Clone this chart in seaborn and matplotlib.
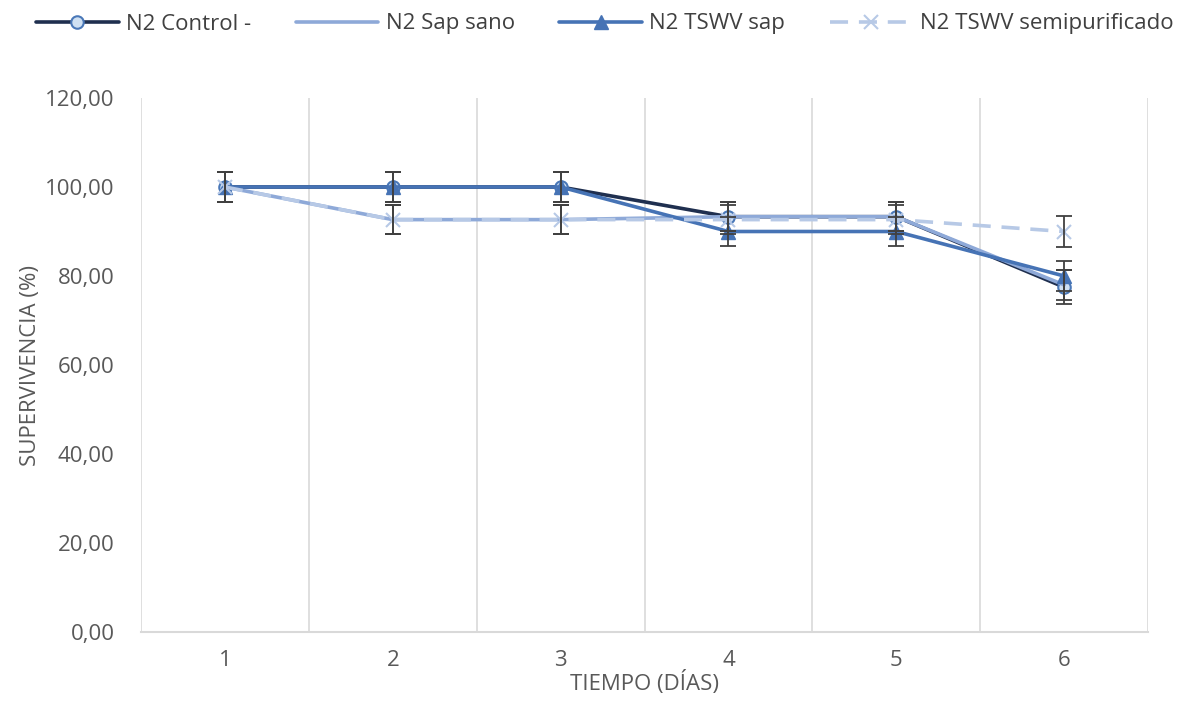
import numpy as np
import pandas as pd
import matplotlib
matplotlib.use("Agg")
import matplotlib.pyplot as plt
import seaborn as sns
from matplotlib.ticker import FuncFormatter, FixedLocator

# --- data ---
dias = [1, 2, 3, 4, 5, 6]
control = [100.0, 100.0, 100.0, 93.33, 93.33, 77.5]
sap_sano = [100.0, 92.67, 92.67, 93.33, 93.33, 78.0]
tswv_sap = [100.0, 100.0, 100.0, 90.0, 90.0, 80.0]
semipurificado = [100.0, 92.67, 92.67, 92.67, 92.67, 90.0]
err_control = [3.3, 3.3, 3.3, 3.3, 3.3, 3.8]
err_sap_sano = [3.3, 3.3, 3.3, 3.3, 3.3, 3.3]
err_tswv_sap = [3.3, 3.3, 3.3, 3.3, 3.3, 3.4]
err_semi = [3.3, 3.3, 3.3, 3.3, 3.3, 3.4]

series_names = ["N2 Control -", "N2 Sap sano", "N2 TSWV sap", "N2 TSWV semipurificado"]
series_vals = [control, sap_sano, tswv_sap, semipurificado]
series_err = [err_control, err_sap_sano, err_tswv_sap, err_semi]

STYLES = {
    "N2 Control -": dict(color="#1f2f4f", lw=2.6, ls="-", marker="o", ms=9,
                         mfc="#cfe0f2", mec="#4a78b8", mew=1.5),
    "N2 Sap sano": dict(color="#8ea9d8", lw=2.6, ls="-", marker=None, ms=0,
                        mfc="none", mec="none", mew=0),
    "N2 TSWV sap": dict(color="#4673b5", lw=2.6, ls="-", marker="^", ms=10,
                        mfc="#4673b5", mec="#4673b5", mew=1),
    "N2 TSWV semipurificado": dict(color="#b7c9e6", lw=2.6, ls=(0, (5, 3)), marker="x", ms=10,
                                   mfc="#b7c9e6", mec="#b7c9e6", mew=1.5),
}

def main():
    sns.set_style("white")
    plt.rcParams['font.family'] = ['Open Sans', 'DejaVu Sans']
    txt = "#595959"

    fig = plt.figure(figsize=(11.79, 7.02), dpi=100)
    ax = fig.add_axes([141 / 1179, 1 - 632 / 702, (1148 - 141) / 1179, (632 - 98) / 702])

    for name, vals, err in zip(series_names, series_vals, series_err):
        st = STYLES[name]
        df = pd.DataFrame({"dia": dias, "valor": vals})
        sns.lineplot(data=df, x="dia", y="valor", ax=ax, color=st["color"], lw=st["lw"],
                     linestyle=st["ls"], marker=st["marker"], markersize=st["ms"],
                     markerfacecolor=st["mfc"], markeredgecolor=st["mec"],
                     markeredgewidth=st["mew"], label=name, zorder=3)
        ax.errorbar(dias, vals, yerr=err, fmt="none", ecolor="#404040", elinewidth=1.3,
                    capsize=6, capthick=1.3, zorder=4)

    ax.set_xlim(0.5, 6.5)
    ax.set_ylim(0, 120)
    ax.set_xticks(dias)
    ax.set_yticks(np.arange(0, 121, 20))
    ax.yaxis.set_major_formatter(FuncFormatter(lambda v, p: f"{v:.2f}".replace(".", ",")))
    ax.xaxis.set_minor_locator(FixedLocator(np.arange(0.5, 6.6, 1.0)))
    ax.grid(False)
    ax.grid(which="minor", axis="x", color="#d9d9d9", lw=1.2)
    ax.tick_params(which="both", length=0, labelsize=16, colors=txt)
    ax.tick_params(axis="x", pad=13)
    ax.tick_params(axis="y", pad=19)
    for s in ["top", "right", "left"]:
        ax.spines[s].set_visible(False)
    ax.spines["bottom"].set_color("#d9d9d9")
    ax.spines["bottom"].set_linewidth(1.5)

    ax.set_xlabel("TIEMPO (DÍAS)", fontsize=16, color=txt, labelpad=0)
    ax.set_ylabel("SUPERVIVENCIA (%)", fontsize=16, color=txt, labelpad=3)

    handles, labels = ax.get_legend_handles_labels()
    if ax.legend_:
        ax.legend_.remove()
    fig.legend(handles, labels, loc="center", bbox_to_anchor=(0.513, 1 - 24 / 702), ncol=4,
               frameon=False, fontsize=16, handlelength=3.7, columnspacing=2.0,
               handletextpad=0.35, labelcolor="#404040")

    fig.savefig("out.png", dpi=100)

if __name__ == "__main__":
    main()
